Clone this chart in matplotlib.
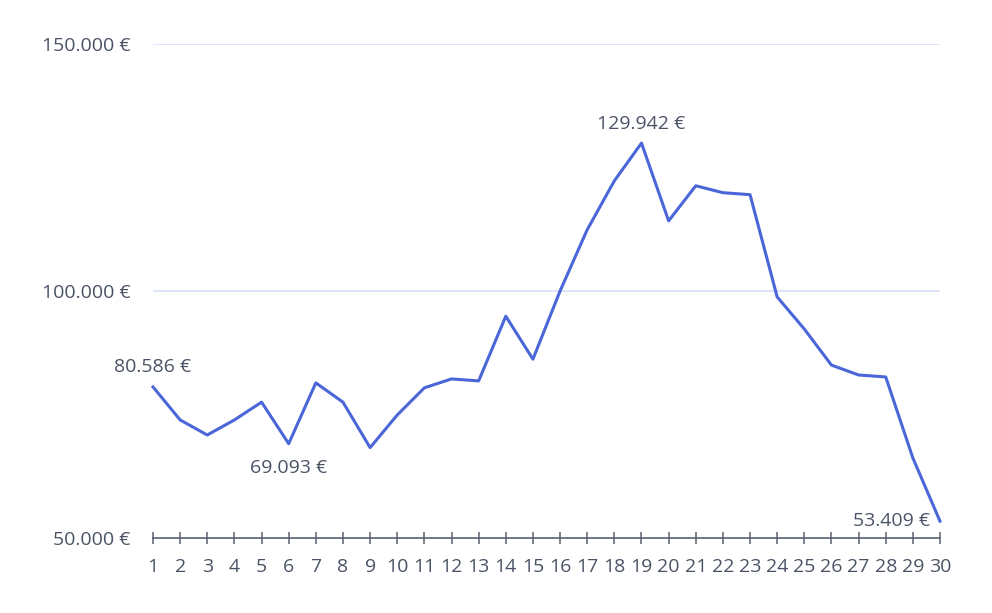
import numpy as np
import matplotlib.pyplot as plt
from matplotlib.ticker import FuncFormatter

days = list(range(1, 31))
revenue = [80586, 73900, 70850, 73900, 77500, 69093, 81400, 77500, 68300, 74900,
           80400, 82200, 81800, 94900, 86200, 100000, 112400, 122300, 129942, 114200,
           121300, 119900, 119500, 98800, 92300, 85000, 83000, 82600, 66200, 53409]
yticks = [50000, 100000, 150000]
labelled = {1: (0, 8, 'center', 'bottom'), 19: (0, 7, 'center', 'bottom'),
            6: (0, -11, 'center', 'top'), 30: (-7, 0, 'right', 'center')}

txt = '#4a5366'
fs = 14
plt.rcParams['font.family'] = ['Open Sans', 'DejaVu Sans']

def euro(v, pos=None):
    return '{:,.0f} €'.format(v).replace(',', '.')

fig = plt.figure(figsize=[9.92, 6.13], dpi=100, facecolor='white')
ax = fig.add_axes([153/992, 1-538/613, 787/992, 494/613])
ax.set_xlim(1, 30); ax.set_ylim(50000, 150000)

for y in yticks[1:]:
    ax.axhline(y, color='#d6dff6', linewidth=1.2, zorder=1)
ax.plot(days, revenue, color='#4a66d8', linewidth=2.2, clip_on=False, zorder=3)

for d, (dx, dy, ha, va) in labelled.items():
    v = revenue[d-1]
    ax.annotate(euro(v), xy=(d, v), xytext=(dx, dy), textcoords='offset points',
                ha=ha, va=va, fontsize=fs, color=txt, zorder=4)

for s in ['top', 'right', 'left']:
    ax.spines[s].set_visible(False)
ax.spines['bottom'].set_color('#5a6272'); ax.spines['bottom'].set_linewidth(1.2)
ax.set_xticks(days)
ax.set_yticks(yticks)
ax.yaxis.set_major_formatter(FuncFormatter(euro))
ax.tick_params(axis='x', direction='inout', length=9, width=1.1, color='#5a6272',
               labelsize=fs, labelcolor=txt, pad=10)
ax.tick_params(axis='y', length=0, labelsize=fs, labelcolor=txt, pad=16)

plt.savefig('out.png', dpi=100, facecolor='white')
